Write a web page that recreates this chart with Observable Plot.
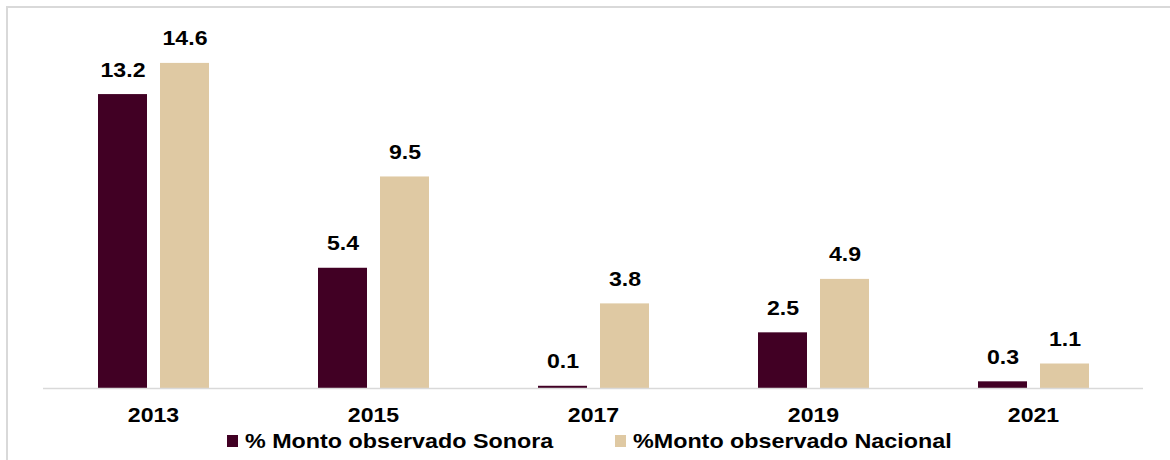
<!DOCTYPE html>
<html>
<head>
<meta charset="utf-8">
<script src="https://cdn.jsdelivr.net/npm/d3@7"></script>
<script src="https://cdn.jsdelivr.net/npm/@observablehq/plot@0.6"></script>
<style>
  html, body { margin: 0; padding: 0; background: #fff; }
  #wrap { position: relative; width: 1170px; height: 460px; overflow: hidden; font-family: "Liberation Sans", Arial, sans-serif; }
  #frame { position: absolute; left: 6px; top: 6px; width: 1200px; height: 500px; border-left: 2px solid #d9d9d9; border-top: 2px solid #d9d9d9; box-sizing: border-box; }
  #chart { position: absolute; left: 0; top: 0; }
  #chart svg { overflow: visible; }
  .leg { position: absolute; top: 431px; height: 20px; display: flex; align-items: center; font-size: 21px; line-height: 20px; font-weight: bold; color: #000; white-space: nowrap; }
  .leg .t { display: inline-block; transform: scaleX(1.11); transform-origin: left center; }
  .sw { width: 11px; height: 12px; margin-right: 7px; }
</style>
</head>
<body>
<div id="wrap">
  <div id="frame"></div>
  <div id="chart"></div>
  <div class="leg" style="left:227px"><span class="sw" style="background:#410024"></span><span class="t">% Monto observado Sonora</span></div>
  <div class="leg" style="left:615px"><span class="sw" style="background:#dfc9a3"></span><span class="t">%Monto observado Nacional</span></div>
</div>
<script>
const years = ["2013", "2015", "2017", "2019", "2021"];
const series = ["% Monto observado Sonora", "%Monto observado Nacional"];
const sonora = [13.2, 5.4, 0.1, 2.5, 0.3];
const nacional = [14.6, 9.5, 3.8, 4.9, 1.1];
const colors = ["#410024", "#dfc9a3"];

const data = [];
years.forEach((y, i) => {
  data.push({year: y, series: series[0], value: sonora[i]});
  data.push({year: y, series: series[1], value: nacional[i]});
});

const chart = Plot.plot({
  width: 1170,
  height: 425,
  marginLeft: 43,
  marginRight: 27,
  marginTop: 54,
  marginBottom: 37,
  style: {fontFamily: "'Liberation Sans', Arial, sans-serif", background: "transparent"},
  fx: {domain: years, padding: 0, label: null},
  x: {domain: series, paddingInner: 0.2097, paddingOuter: 0.879, axis: null},
  y: {domain: [0, 15], axis: null},
  color: {domain: series, range: colors},
  marks: [
    Plot.barY(data, {fx: "year", x: "series", y: "value", fill: "series"}),
    Plot.ruleY([0], {stroke: "#d9d9d9", strokeWidth: 1.5}),
    Plot.text(data, {
      fx: "year", x: "series", y: "value",
      text: d => d.value.toFixed(1),
      lineAnchor: "bottom", dy: -18,
      fontSize: 21, fontWeight: "bold", fill: "#000"
    }),
    Plot.axisFx({anchor: "bottom", tickSize: 0, tickPadding: 19, fontSize: 21, fontWeight: "bold", color: "#000", label: null})
  ]
});
document.getElementById("chart").appendChild(chart);
// widen text horizontally around its own centre to match the reference's stretched glyphs
chart.querySelectorAll("text").forEach(t => {
  const b = t.getBBox();
  const cx = b.x + b.width / 2;
  const prev = t.getAttribute("transform") || "";
  t.setAttribute("transform", `${prev} translate(${cx},0) scale(1.1,1) translate(${-cx},0)`.trim());
});
</script>
</body>
</html>
